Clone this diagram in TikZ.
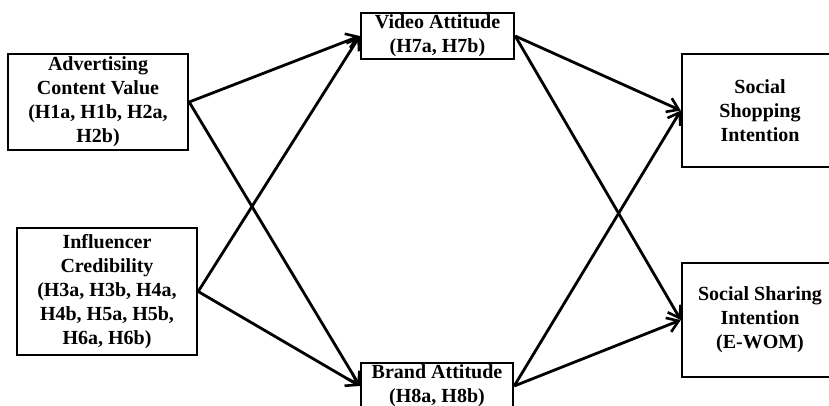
\documentclass[tikz,border=0pt]{standalone}
\usepackage{fontspec}
\setmainfont{Liberation Serif}
\usetikzlibrary{arrows.meta}
\begin{document}
\begin{tikzpicture}[x=1pt,y=-1pt,
  box/.style={draw, line width=2.4pt, rectangle, inner sep=0pt, align=center,
    font=\fontsize{20}{24}\selectfont\bfseries},
  link/.style={line width=2.8pt, -{Straight Barb[length=11pt,width=15pt,line width=2.6pt]}}]
\useasboundingbox (0,0) rectangle (829,405);
\clip (0,0) rectangle (829,405);
\node[box, minimum width=180pt, minimum height=96pt] (adv) at (98,102)
  {Advertising\\Content Value\\(H1a, H1b, H2a,\\H2b)};
\node[box, minimum width=180pt, minimum height=127pt] (inf) at (107,291.5)
  {Influencer\\Credibility\\(H3a, H3b, H4a,\\H4b, H5a, H5b,\\H6a, H6b)};
\node[box, minimum width=153pt, minimum height=46pt] (video) at (437.5,36)
  {Video Attitude\\(H7a, H7b)};
\node[box, minimum width=152pt, minimum height=46pt] (brand) at (437,386)
  {Brand Attitude\\(H8a, H8b)};
\node[box, minimum width=156pt, minimum height=113pt] (shop) at (760,110.5)
  {Social\\Shopping\\Intention};
\node[box, minimum width=156pt, minimum height=114pt] (share) at (760,320)
  {Social Sharing\\Intention\\(E-WOM)};
\draw[link] (adv.east) -- (video.west);
\draw[link] (adv.east) -- (brand.west);
\draw[link] (inf.east) -- (video.west);
\draw[link] (inf.east) -- (brand.west);
\draw[link] (video.east) -- (shop.west);
\draw[link] (video.east) -- (share.west);
\draw[link] (brand.east) -- (shop.west);
\draw[link] (brand.east) -- (share.west);
\end{tikzpicture}
\end{document}
